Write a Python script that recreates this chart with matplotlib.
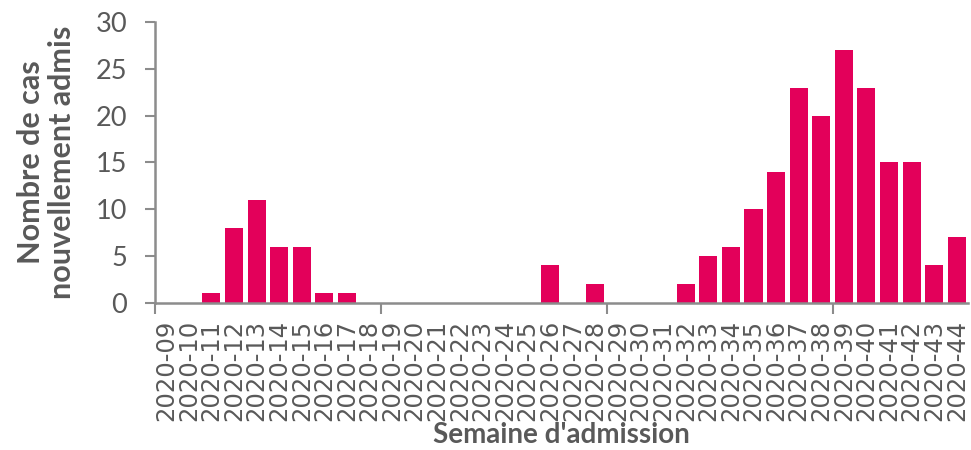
import matplotlib
matplotlib.use("Agg")
import matplotlib.pyplot as plt

weeks = [f"2020-{w:02d}" for w in range(9, 45)]
cases = [0, 0, 1, 8, 11, 6, 6, 1, 1, 0,
         0, 0, 0, 0, 0, 0, 0, 4, 0, 2,
         0, 0, 0, 2, 5, 6, 10, 14, 23, 20,
         27, 23, 15, 15, 4, 7]
yticks = [0, 5, 10, 15, 20, 25, 30]

bar_color = "#E3005A"
text_color = "#595959"
axis_color = "#8C8C8C"

fig = plt.figure(figsize=(9.71, 4.5), dpi=100)
ax = fig.add_axes([0.1596, 0.327, 0.8374, 0.624])

x = list(range(len(weeks)))
ax.bar(x, cases, width=0.8, color=bar_color)

ax.set_xlim(-0.5, len(weeks) - 0.5)
ax.set_ylim(0, 30)
ax.set_yticks(yticks)
ax.set_yticklabels([str(v) for v in yticks], family="Lato", fontsize=19.5, color=text_color)
ax.tick_params(axis="y", direction="out", length=7, width=1.5, color=axis_color, pad=13)

ax.set_xticks(x)
ax.set_xticklabels(weeks, rotation=90, family="DejaVu Sans", fontsize=17.5, color=text_color)
ax.tick_params(axis="x", which="major", length=0, pad=12)
ax.set_xticks([-0.5, 9.5, 19.5, 29.5], minor=True)
ax.tick_params(axis="x", which="minor", direction="out", length=8, width=1.5, color=axis_color)

for s in ["top", "right"]:
    ax.spines[s].set_visible(False)
for s in ["left", "bottom"]:
    ax.spines[s].set_color(axis_color)
    ax.spines[s].set_linewidth(1.8)

ax.set_ylabel("Nombre de cas\nnouvellement admis", family="Lato", fontweight="bold",
              fontsize=22, color=text_color, labelpad=14, linespacing=1.15)
ax.set_xlabel("Semaine d'admission", family="Lato", fontweight="bold",
              fontsize=20, color=text_color, labelpad=1)

fig.savefig("out.png", dpi=100)
